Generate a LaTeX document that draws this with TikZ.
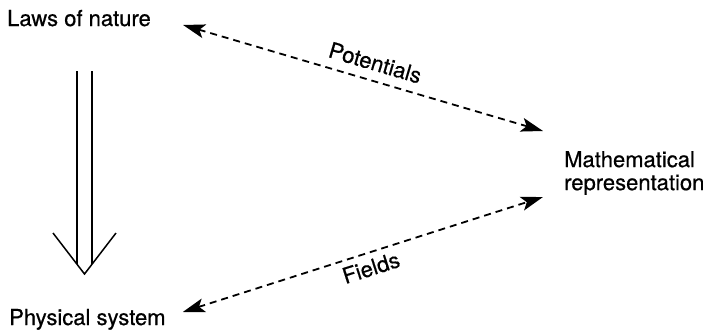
\documentclass[tikz,border=0pt]{standalone}
\usepackage{fontspec}
\setmainfont[FakeBold=0.6]{TeX Gyre Heros}
\usetikzlibrary{arrows.meta,positioning}

\begin{document}
\begin{tikzpicture}[x=1pt,y=1pt,>={Stealth[length=22pt,width=14pt,inset=5pt]},
term/.style={inner sep=0pt,font=\fontsize{22}{23}\selectfont,align=left},
link/.style={<->,line width=1.8pt,dash pattern=on 7pt off 5pt},
tag/.style={inner sep=0pt,font=\fontsize{22}{23}\selectfont,sloped}]
\useasboundingbox (0,0) rectangle (712,-335);
\node[term,anchor=base west] (laws) at (7,-26) {Laws of nature};
\node[term,anchor=base west] (phys) at (9,-325) {Physical system};
\node[term,anchor=west] (math) at (564,-173) {Mathematical\\representation};
\coordinate (imptop) at (84.5,-71);
\coordinate (imptip) at (84.5,-274);
\draw[link] ([xshift=32pt,yshift=1pt]laws.base east) -- node[tag,pos=0.52,above=9pt]{Potentials} ([xshift=-21pt,yshift=42pt]math.west);
\draw[link] ([xshift=17pt,yshift=13pt]phys.base east) -- node[tag,pos=0.51,below=6pt]{Fields} ([xshift=-21pt,yshift=-24pt]math.west);
\draw[line width=1.5pt,double distance=13.5pt] (imptop) -- ([yshift=9.8pt]imptip);
\draw[line width=1.5pt] ([shift={(-31.5,41)}]imptip) -- (imptip) -- ([shift={(31.5,41)}]imptip);
\end{tikzpicture}
\end{document}
